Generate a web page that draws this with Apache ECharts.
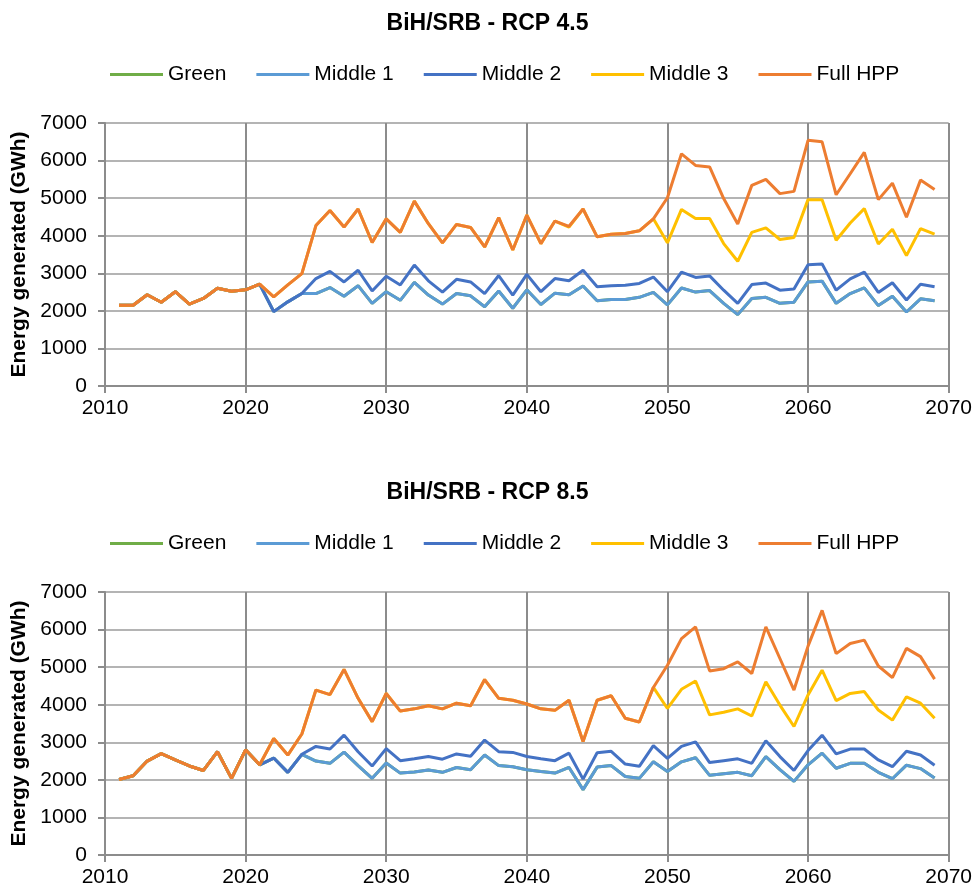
<!DOCTYPE html>
<html>
<head>
<meta charset="utf-8">
<title>BiH/SRB - RCP 4.5 / 8.5</title>
<script src="https://cdn.jsdelivr.net/npm/echarts@6/dist/echarts.min.js"></script>
<style>
  html, body { margin: 0; padding: 0; background: #fff; }
  #chart { width: 975px; height: 888px; }
</style>
</head>
<body>
<div id="chart"></div>
<script>
// years 2011 .. 2069, one value per year
var firstYear = 2011;
var seriesNames = ["Green", "Middle 1", "Middle 2", "Middle 3", "Full HPP"];
var xTicks = [2010, 2020, 2030, 2040, 2050, 2060, 2070];
var yTicks = [0, 1000, 2000, 3000, 4000, 5000, 6000, 7000];

// ---- RCP 4.5 ----
var green45 = [2150,2150,2430,2230,2510,2180,2330,2600,2520,2560,2710,
  1980,2240,2460,2460,2620,2390,2670,2200,2510,2280,2760,2420,2180,2460,2400,2110,2530,2070,
  2560,2170,2470,2430,2660,2270,2300,2300,2360,2490,2160,2610,2500,2540,2200,1900,2330,2360,
  2200,2230,2770,2790,2200,2460,2610,2140,2390,1970,2320,2270];
var middle1_45 = [2150,2150,2430,2230,2510,2180,2330,2600,2520,2560,2710,
  1980,2240,2460,2460,2620,2390,2670,2200,2510,2280,2760,2420,2180,2460,2400,2110,2530,2070,
  2560,2170,2470,2430,2660,2270,2300,2300,2360,2490,2160,2610,2500,2540,2200,1900,2330,2360,
  2200,2230,2770,2790,2200,2460,2610,2140,2390,1970,2320,2270];
var middle2_45 = [2150,2150,2430,2230,2510,2180,2330,2600,2520,2560,2710,
  1980,2240,2460,2860,3050,2770,3080,2530,2920,2690,3220,2800,2500,2840,2770,2460,2940,2420,
  2970,2510,2860,2800,3080,2640,2670,2680,2730,2900,2510,3030,2890,2930,2550,2200,2700,2740,
  2550,2580,3230,3250,2550,2850,3030,2490,2750,2290,2710,2640];
var middle3_45 = [2150,2150,2430,2230,2510,2180,2330,2600,2520,2560,2710,
  2370,2690,2990,4270,4670,4230,4710,3820,4450,4090,4920,4320,3810,4300,4220,3700,4480,3620,
  4550,3790,4390,4230,4710,3970,4040,4060,4130,4450,3810,4700,4460,4460,3790,3320,4090,4210,
  3900,3950,4960,4960,3880,4340,4720,3780,4170,3470,4190,4040];
var full45 = [2150,2150,2430,2230,2510,2180,2330,2600,2520,2560,2710,
  2370,2690,2990,4270,4670,4230,4710,3820,4450,4090,4920,4320,3810,4300,4220,3700,4480,3620,
  4550,3790,4390,4250,4710,3970,4040,4060,4130,4450,5010,6180,5870,5830,4990,4310,5340,5500,
  5120,5180,6540,6500,5090,5650,6220,4960,5400,4490,5480,5230];

// ---- RCP 8.5 ----
var green85 = [2010,2110,2500,2700,2530,2370,2250,2750,2040,2800,2400,
  2580,2200,2680,2500,2440,2740,2380,2040,2450,2180,2210,2260,2200,2330,2270,2660,2380,2350,
  2270,2220,2180,2330,1740,2340,2380,2090,2040,2480,2220,2480,2590,2120,2160,2200,2110,2620,
  2270,1960,2400,2710,2310,2440,2440,2200,2030,2390,2300,2050];
var middle1_85 = [2010,2110,2500,2700,2530,2370,2250,2750,2040,2800,2400,
  2580,2200,2680,2500,2440,2740,2380,2040,2450,2180,2210,2260,2200,2330,2270,2660,2380,2350,
  2270,2220,2180,2330,1740,2340,2380,2090,2040,2480,2220,2480,2590,2120,2160,2200,2110,2620,
  2270,1960,2400,2710,2310,2440,2440,2200,2030,2390,2300,2050];
var middle2_85 = [2010,2110,2500,2700,2530,2370,2250,2750,2040,2800,2400,
  2580,2200,2680,2890,2820,3190,2750,2370,2830,2510,2560,2620,2550,2690,2630,3060,2750,2730,
  2620,2560,2510,2710,2020,2720,2760,2420,2360,2910,2570,2890,3010,2460,2510,2560,2440,3040,
  2620,2250,2780,3190,2690,2820,2820,2530,2350,2760,2660,2390];
var middle3_85 = [2010,2110,2500,2700,2530,2370,2250,2750,2040,2800,2400,
  3100,2660,3220,4390,4270,4940,4170,3550,4300,3830,3890,3970,3890,4040,3970,4670,4170,4120,
  4020,3890,3850,4120,3020,4120,4240,3640,3540,4460,3900,4410,4630,3730,3800,3890,3700,4610,
  3990,3420,4260,4920,4110,4300,4350,3860,3590,4210,4040,3640];
var full85 = [2010,2110,2500,2700,2530,2370,2250,2750,2040,2800,2400,
  3100,2660,3220,4390,4270,4940,4170,3550,4300,3830,3890,3970,3890,4040,3970,4670,4170,4120,
  4020,3890,3850,4120,3020,4120,4240,3640,3540,4460,5050,5760,6070,4900,4960,5140,4830,6070,
  5230,4390,5560,6510,5360,5630,5720,5030,4720,5500,5280,4680];

var colors = ["#70AD47", "#5B9BD5", "#4472C4", "#FFC000", "#ED7D31"];
var fontFamily = "'Liberation Sans', Arial, sans-serif";

function toPairs(arr) {
  return arr.map(function (v, i) { return [firstYear + i, v]; });
}

// plain numbers, no thousands separator
function plain(v) {
  return String(v);
}

function makeSeries(idx, list) {
  return list.map(function (arr, k) {
    return {
      name: seriesNames[k],
      type: "line",
      xAxisIndex: idx,
      yAxisIndex: idx,
      showSymbol: false,
      symbol: "none",
      lineStyle: { width: 3, color: colors[k] },
      itemStyle: { color: colors[k] },
      data: toPairs(arr)
    };
  });
}

function xAxisFor(idx) {
  return {
    type: "value",
    gridIndex: idx,
    min: xTicks[0],
    max: xTicks[xTicks.length - 1],
    interval: 10,
    axisLine: { show: true, onZero: false, lineStyle: { color: "#8c8c8c", width: 2 } },
    axisTick: { show: true, length: 7, lineStyle: { color: "#8c8c8c", width: 2 } },
    axisLabel: { color: "#000", fontSize: 21, fontFamily: fontFamily, margin: 12, formatter: plain },
    splitLine: { show: true, lineStyle: { color: "#8c8c8c", width: 2 } }
  };
}

function yAxisFor(idx) {
  return {
    type: "value",
    gridIndex: idx,
    min: yTicks[0],
    max: yTicks[yTicks.length - 1],
    interval: 1000,
    name: "Energy generated (GWh)",
    nameLocation: "middle",
    nameGap: 72,
    nameTextStyle: { color: "#000", fontSize: 21, fontWeight: "bold", fontFamily: fontFamily },
    axisLine: { show: true, lineStyle: { color: "#8c8c8c", width: 2 } },
    axisTick: { show: true, inside: false, length: 7, lineStyle: { color: "#8c8c8c", width: 2 } },
    axisLabel: { color: "#000", fontSize: 21, fontFamily: fontFamily, margin: 18, formatter: plain },
    splitLine: { show: true, lineStyle: { color: "#b4b4b4", width: 2 } }
  };
}

function legendFor(top) {
  return {
    top: top,
    left: 105,
    data: seriesNames,
    icon: "rect",
    itemWidth: 53,
    itemHeight: 3,
    itemGap: 30,
    textStyle: { color: "#000", fontSize: 21, fontFamily: fontFamily, padding: [0, 0, 0, 0] }
  };
}

var chart = echarts.init(document.getElementById("chart"));

var option = {
  backgroundColor: "#fff",
  animation: false,
  title: [
    {
      text: "BiH/SRB - RCP 4.5",
      left: "center",
      top: 7,
      textStyle: { color: "#000", fontSize: 23, fontWeight: "bold", fontFamily: fontFamily }
    },
    {
      text: "BiH/SRB - RCP 8.5",
      left: "center",
      top: 476,
      textStyle: { color: "#000", fontSize: 23, fontWeight: "bold", fontFamily: fontFamily }
    }
  ],
  legend: [legendFor(59), legendFor(528)],
  grid: [
    { left: 105, right: 24, top: 123, height: 263 },
    { left: 105, right: 24, top: 592, height: 263 }
  ],
  xAxis: [xAxisFor(0), xAxisFor(1)],
  yAxis: [yAxisFor(0), yAxisFor(1)],
  series: makeSeries(0, [green45, middle1_45, middle2_45, middle3_45, full45])
    .concat(makeSeries(1, [green85, middle1_85, middle2_85, middle3_85, full85]))
};

chart.setOption(option);
</script>
</body>
</html>
